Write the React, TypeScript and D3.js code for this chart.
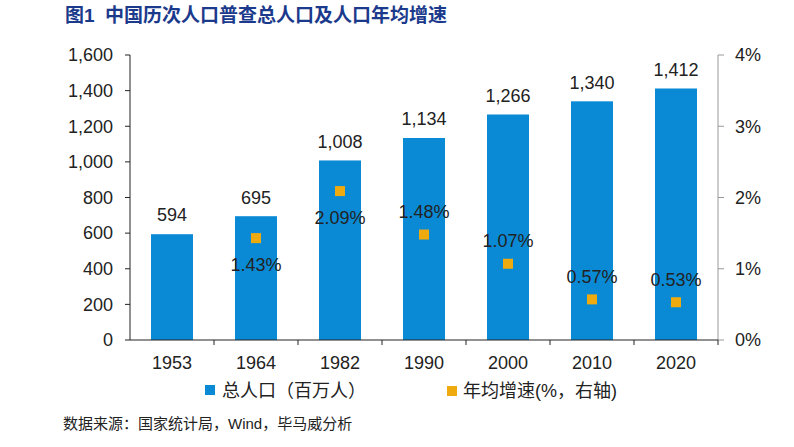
import React from "react";
import * as d3 from "d3";

const years = ["1953", "1964", "1982", "1990", "2000", "2010", "2020"];
const population = [594, 695, 1008, 1134, 1266, 1340, 1412];
const growthYears = ["1964", "1982", "1990", "2000", "2010", "2020"];
const growth = [1.43, 2.09, 1.48, 1.07, 0.57, 0.53];
const growthLabelBelow = [true, true, false, false, false, false];
const leftTicks = [0, 200, 400, 600, 800, 1000, 1200, 1400, 1600];
const rightTicks = [0, 1, 2, 3, 4];

const W = 794;
const H = 447;
const BLUE = "#0A8AD5";
const ORANGE = "#EEAA0E";
const FONT = "'Liberation Sans', Arial, 'Noto Sans CJK SC', sans-serif";
const CJK = "'Liberation Sans', 'Noto Sans CJK SC', sans-serif";

export default function App() {
  const left = 130, right = 718, top = 55, bottom = 340;
  const x = d3.scaleBand<string>().domain(years).range([left, right]).paddingInner(0.5).paddingOuter(0.25);
  const yL = d3.scaleLinear().domain([0, 1600]).range([bottom, top]);
  const yR = d3.scaleLinear().domain([0, 4]).range([bottom, top]);
  const step = x.step();
  const fmt = d3.format(",");
  const mk = 10;

  return (
    <svg width={W} height={H} style={{ position: "absolute", left: 0, top: 0, background: "#fff" }} fontFamily={FONT}>
      <text y={15} dy="0.35em" fontSize={19} fontWeight="bold" fill="#1B3A8C" fontFamily={CJK}>
        <tspan x={65}>图1</tspan>
        <tspan x={105}>中国历次人口普查总人口及人口年均增速</tspan>
      </text>

      {/* bars */}
      {years.map((yr, i) => (
        <rect key={yr} x={x(yr)} y={yL(population[i])} width={x.bandwidth()} height={bottom - yL(population[i])} fill={BLUE} />
      ))}
      {years.map((yr, i) => (
        <text key={"l" + yr} x={x(yr)! + x.bandwidth() / 2} y={yL(population[i]) - 19} dy="0.35em" textAnchor="middle" fontSize={18} fill="#222">
          {fmt(population[i])}
        </text>
      ))}

      {/* markers */}
      {growthYears.map((yr, i) => {
        const cx = x(yr)! + x.bandwidth() / 2;
        const cy = yR(growth[i]);
        return (
          <g key={"g" + yr}>
            <rect x={cx - mk / 2} y={cy - mk / 2} width={mk} height={mk} fill={ORANGE} />
            <text x={cx} y={cy + (growthLabelBelow[i] ? 27 : -23)} dy="0.35em" textAnchor="middle" fontSize={18} fill="#222">
              {growth[i].toFixed(2) + "%"}
            </text>
          </g>
        );
      })}

      {/* left axis */}
      <line x1={left} x2={left} y1={top} y2={bottom} stroke="#222" strokeWidth={1} />
      {leftTicks.map((t) => (
        <g key={"lt" + t}>
          <line x1={left - 5} x2={left} y1={yL(t)} y2={yL(t)} stroke="#222" />
          <text x={113} y={yL(t)} dy="0.35em" textAnchor="end" fontSize={18} fill="#222">
            {fmt(t)}
          </text>
        </g>
      ))}

      {/* right axis */}
      <line x1={right} x2={right} y1={top} y2={bottom} stroke="#999" strokeWidth={1} />
      {rightTicks.map((t) => (
        <g key={"rt" + t}>
          <line x1={right} x2={right + 6} y1={yR(t)} y2={yR(t)} stroke="#999" />
          <text x={735} y={yR(t)} dy="0.35em" textAnchor="start" fontSize={18} fill="#222">
            {t + "%"}
          </text>
        </g>
      ))}

      {/* x axis */}
      <line x1={left} x2={right} y1={bottom} y2={bottom} stroke="#222" strokeWidth={1} />
      {years.map((yr, i) => (
        <line key={"xt" + yr} x1={left + (i + 1) * step} x2={left + (i + 1) * step} y1={bottom} y2={bottom + 5} stroke="#222" />
      ))}
      {years.map((yr) => (
        <text key={"xl" + yr} x={x(yr)! + x.bandwidth() / 2} y={363} dy="0.35em" textAnchor="middle" fontSize={18} fill="#222">
          {yr}
        </text>
      ))}

      {/* legend */}
      <rect x={205} y={385} width={10} height={10} fill={BLUE} />
      <text x={222} y={391} dy="0.35em" fontSize={18} fill="#222" fontFamily={CJK}>总人口（百万人）</text>
      <rect x={447} y={386} width={10} height={10} fill={ORANGE} />
      <text x={463} y={391} dy="0.35em" fontSize={18} fill="#222" fontFamily={CJK}>年均增速(%，右轴)</text>

      <text x={63} y={424} dy="0.35em" fontSize={15} fill="#222" fontFamily={CJK}>数据来源：国家统计局，Wind，毕马威分析</text>
    </svg>
  );
}
